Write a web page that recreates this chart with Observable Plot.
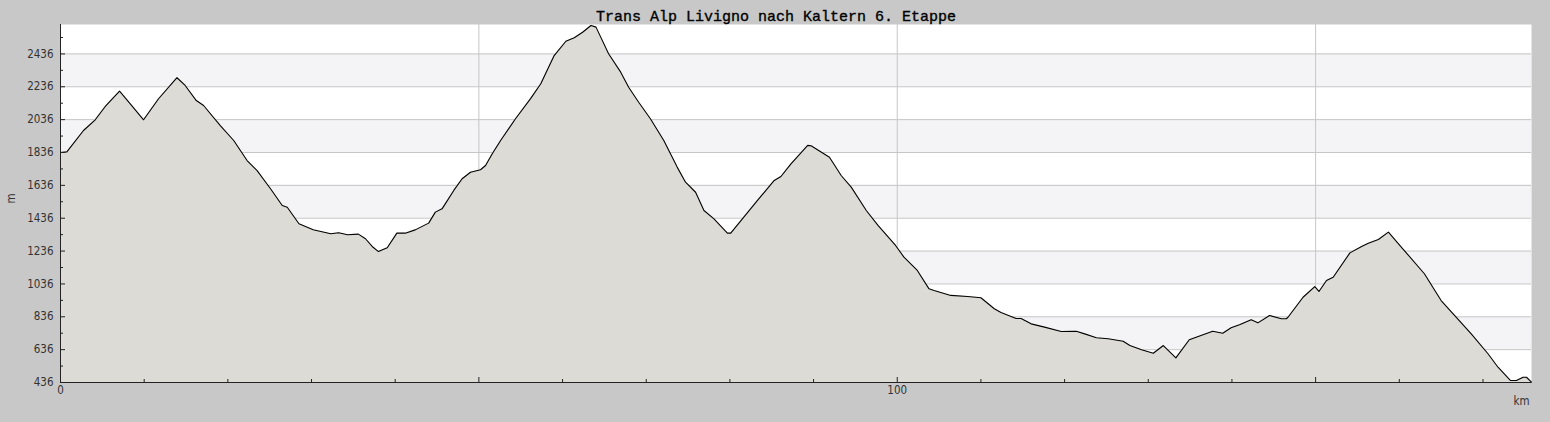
<!DOCTYPE html>
<html>
<head>
<meta charset="utf-8">
<script src="https://cdn.jsdelivr.net/npm/d3@7"></script>
<script src="https://cdn.jsdelivr.net/npm/@observablehq/plot@0.6"></script>
<style>
  html, body { margin: 0; padding: 0; background: #c8c8c8; }
</style>
</head>
<body>
<div id="chart"></div>
<script>
const title = "Trans Alp Livigno nach Kaltern 6. Etappe";
const km = [0, 0.76, 2.75, 4.15, 5.35, 7.06, 8.34, 9.93, 11.72, 13.92, 14.9, 16.23, 17.1, 19.1, 20.7, 22.3, 23.5, 25.1, 26.5, 27.1, 28.5, 30.2,
  32.3, 33.25, 34.3, 35.6, 36.45, 37.25, 38.0, 39.05, 40.2, 41.2, 42.4, 44.0, 44.8, 45.6, 47.0, 48.0, 49.0, 50.2, 50.8, 51.6, 52.6,
  54.4, 56.2, 57.4, 59.0, 60.4, 61.4, 62.4, 63.4, 64.0, 65.5, 66.95, 67.9, 69.1, 70.5, 72.1, 72.9, 73.7, 74.7, 75.9, 76.9, 78.1, 79.7, 80.1,
  83.3, 85.3, 86.1, 87.3, 89.3, 89.7, 91.9, 93.3, 94.5, 96.3, 97.7, 99.8, 100.8, 102.4, 103.8, 104.4, 106.4, 108.4, 110.0, 111.6, 112.4,
  114.2, 114.8, 116.0, 117.6, 119.6, 121.4, 122.4, 123.8, 125.2, 127.0, 127.8, 129.2, 130.6, 131.8, 133.3, 134.9, 136.3, 137.7, 138.9,
  139.9, 140.9, 142.3, 143.1, 144.5, 145.9, 146.5, 146.7, 148.5, 149.9, 150.4, 151.3, 152.1, 154.1, 155.5, 156.3, 157.5, 158.7, 160.6,
  163.0, 165.0, 166.6, 168.6, 170.6, 171.8, 173.3, 174.0, 174.8, 175.2, 175.8];
const elev = [1836, 1840, 1970, 2035, 2116, 2209, 2132, 2035, 2163, 2291, 2244, 2152, 2122, 2000, 1909, 1787, 1726, 1615, 1513, 1503, 1402, 1366,
  1341, 1347, 1335, 1339, 1311, 1264, 1233, 1256, 1345, 1345, 1365, 1406, 1473, 1493, 1605, 1676, 1716, 1731, 1757, 1828, 1909,
  2043, 2165, 2254, 2426, 2513, 2534, 2568, 2609, 2599, 2437, 2325, 2233, 2142, 2041, 1909, 1828, 1747, 1655, 1594, 1483, 1432, 1345, 1345,
  1544, 1666, 1690, 1767, 1879, 1877, 1807, 1696, 1625, 1483, 1392, 1270, 1199, 1118, 1006, 996, 966, 959, 952, 885, 862,
  826, 826, 793, 773, 746, 748, 732, 708, 702, 687, 661, 635, 614, 661, 586, 696, 722, 748, 736,
  769, 787, 818, 799, 844, 824, 824, 833, 955, 1020, 990, 1057, 1077, 1225, 1264, 1284, 1306, 1351, 1239,
  1098, 935, 844, 732, 611, 529, 448, 448, 468, 468, 438];

const yLabels = [436, 636, 836, 1036, 1236, 1436, 1636, 1836, 2036, 2236, 2436];
const yMinor = [536, 736, 936, 1136, 1336, 1536, 1736, 1936, 2136, 2336, 2536];
const xMajor = [0, 50, 100, 150];
const xMinor = [10, 20, 30, 40, 60, 70, 80, 90, 110, 120, 130, 140, 160, 170];
const xLabels = [0, 100];
const xGrid = [50, 100, 150];
const bandLo = [636, 1036, 1436, 1836, 2236];
const bandHi = [836, 1236, 1636, 2036, 2436];

const data = km.map((k, i) => ({km: k, elev: elev[i]}));
const bands = bandLo.map((lo, i) => ({lo, hi: bandHi[i]}));
const empty = () => "";
const plain = d => String(d);

const font = '"DejaVu Sans Condensed", "DejaVu Sans", sans-serif';
const fs = 11.5;

const chart = Plot.plot({
  width: 1550,
  height: 422,
  marginLeft: 60,
  marginRight: 19,
  marginTop: 24,
  marginBottom: 40,
  x: {domain: [0, 175.8]},
  y: {domain: [436, 2615]},
  style: {background: "#c8c8c8", fontFamily: font, fontSize: "11.5px", fontStretch: "condensed", color: "#333", overflow: "visible"},
  marks: [
    Plot.frame({fill: "white"}),
    Plot.rect(bands, {y1: "lo", y2: "hi", fill: "#f4f3f6"}),
    Plot.ruleY(yLabels, {stroke: "#c6c6c6"}),
    Plot.ruleX(xGrid, {stroke: "#c6c6c6"}),
    Plot.areaY(data, {x: "km", y1: 436, y2: "elev", fill: "#dcdbd6"}),
    Plot.lineY(data, {x: "km", y: "elev", stroke: "black", strokeWidth: 1.1}),
    Plot.ruleX([0], {stroke: "#222"}),
    Plot.ruleY([436], {stroke: "#222"}),
    Plot.axisY({ticks: yLabels, tickSize: 5, dx: 5, tickFormat: empty, label: null, stroke: "#222"}),
    Plot.axisY({ticks: yMinor, tickSize: 3, dx: 3, tickFormat: empty, label: null, stroke: "#222"}),
    Plot.axisY({ticks: yLabels, tickSize: 0, tickPadding: 7, tickFormat: plain, label: null, fill: "#333", fontSize: fs}),
    Plot.axisX({ticks: xMajor, tickSize: 5, dy: -5, tickFormat: empty, label: null, stroke: "#222"}),
    Plot.axisX({ticks: xMinor, tickSize: 3, dy: -3, tickFormat: empty, label: null, stroke: "#222"}),
    Plot.axisX({ticks: xLabels, tickSize: 0, tickPadding: 3, tickFormat: plain, label: null, fill: "#333", fontSize: fs}),
    Plot.text(["km"], {frameAnchor: "bottom-right", textAnchor: "end", lineAnchor: "middle", dx: -2, dy: 19, fill: "#333", fontSize: fs}),
    Plot.text(["m"], {frameAnchor: "left", rotate: -90, lineAnchor: "middle", dx: -49, fill: "#333", fontSize: fs}),
    Plot.text([title], {frameAnchor: "top", lineAnchor: "bottom", dx: -20, dy: -4, fill: "black", stroke: "black", strokeWidth: 0.35,
      fontFamily: '"Liberation Mono", monospace', fontSize: 15})
  ]
});
document.getElementById("chart").appendChild(chart);
</script>
</body>
</html>
